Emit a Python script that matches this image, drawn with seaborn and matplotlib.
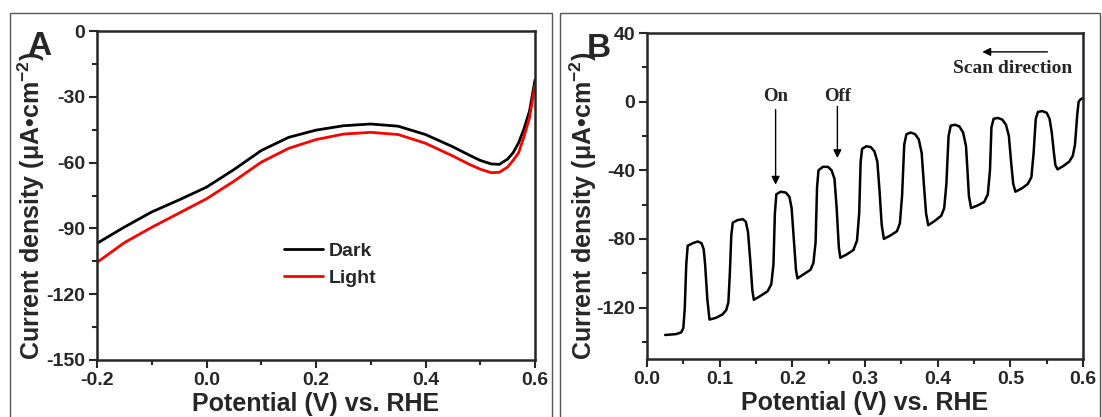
import numpy as np
import pandas as pd
import matplotlib
matplotlib.use("Agg")
import matplotlib.pyplot as plt
from matplotlib.patches import Rectangle
from matplotlib.ticker import MultipleLocator
import seaborn as sns

# ---------------- Data ----------------
# Panel A: linear sweep voltammetry, dark vs light
potential_A = [-0.20, -0.15, -0.10, -0.05, 0.00, 0.05, 0.10, 0.15, 0.20, 0.25,
               0.30, 0.35, 0.40, 0.45, 0.48, 0.50, 0.52, 0.535, 0.55, 0.56,
               0.57, 0.58, 0.59, 0.60]
dark_A = [-96.8, -89.4, -82.5, -77.0, -71.2, -63.2, -54.5, -48.5, -45.2, -43.2,
          -42.4, -43.4, -47.2, -52.8, -56.6, -59.0, -60.6, -60.8, -58.4, -55.5,
          -51.0, -44.5, -36.5, -22.3]
light_A = [-105.5, -96.5, -89.5, -83.0, -76.5, -68.5, -59.8, -53.5, -49.5, -47.0,
           -46.2, -47.2, -51.2, -57.0, -60.8, -63.0, -64.6, -64.4, -62.0, -59.0,
           -55.5, -48.0, -39.5, -24.6]

# Panel B: chopped-light LSV
potential_B = [0.025, 0.040, 0.047, 0.050, 0.052, 0.054, 0.056, 0.063, 0.070, 0.075,
               0.078, 0.080, 0.083, 0.086, 0.095, 0.104, 0.109, 0.112, 0.114, 0.116,
               0.118, 0.125, 0.132, 0.136, 0.139, 0.142, 0.145, 0.147, 0.157, 0.166,
               0.171, 0.174, 0.176, 0.178, 0.184, 0.191, 0.196, 0.199, 0.202, 0.205,
               0.207, 0.216, 0.225, 0.229, 0.232, 0.234, 0.236, 0.242, 0.249, 0.254,
               0.258, 0.261, 0.264, 0.266, 0.275, 0.284, 0.289, 0.292, 0.294, 0.296,
               0.302, 0.308, 0.313, 0.317, 0.320, 0.323, 0.326, 0.335, 0.344, 0.348,
               0.351, 0.354, 0.357, 0.363, 0.369, 0.374, 0.378, 0.381, 0.384, 0.387,
               0.396, 0.405, 0.409, 0.412, 0.415, 0.418, 0.424, 0.430, 0.435, 0.439,
               0.441, 0.443, 0.446, 0.455, 0.464, 0.469, 0.472, 0.474, 0.477, 0.483,
               0.489, 0.494, 0.498, 0.501, 0.504, 0.507, 0.516, 0.524, 0.529, 0.532,
               0.535, 0.538, 0.544, 0.550, 0.554, 0.557, 0.560, 0.562, 0.565, 0.573,
               0.581, 0.586, 0.589, 0.592, 0.594, 0.597, 0.600]
current_B = [-136.0, -135.5, -134.5, -132.0, -120.0, -95.0, -84.0, -82.5, -81.5, -82.5,
             -86.0, -95.0, -115.0, -127.0, -126.0, -124.0, -121.5, -117.0, -100.0, -78.0,
             -70.5, -69.0, -68.5, -70.0, -76.0, -92.0, -110.0, -115.5, -113.0, -110.5,
             -106.5, -95.0, -65.0, -54.0, -52.5, -53.0, -55.5, -62.0, -80.0, -98.0,
             -103.0, -100.5, -98.0, -94.0, -82.0, -50.0, -40.0, -38.0, -38.0, -40.0,
             -45.0, -62.0, -85.0, -91.0, -89.0, -86.5, -81.0, -65.0, -35.0, -27.5,
             -26.0, -26.5, -29.0, -35.0, -52.0, -72.0, -80.0, -78.0, -75.5, -71.0,
             -55.0, -25.0, -19.0, -18.0, -19.0, -22.0, -30.0, -48.0, -65.0, -72.0,
             -69.5, -66.5, -62.0, -48.0, -20.0, -14.0, -13.5, -14.5, -18.0, -26.0,
             -40.0, -55.0, -62.0, -60.5, -58.5, -54.0, -40.0, -15.0, -10.0, -9.5,
             -10.5, -13.5, -20.0, -35.0, -48.0, -52.5, -50.5, -48.0, -44.0, -30.0,
             -10.0, -6.0, -5.5, -6.5, -10.0, -18.0, -30.0, -37.0, -39.5, -37.5,
             -35.0, -31.5, -25.0, -8.0, 0.0, 1.5, 2.0]

series_names = ["Dark", "Light"]
series_colors = ["#000000", "#ff0000"]

# ---------------- Style ----------------
sns.set_style("ticks")
plt.rcParams["font.family"] = ["Liberation Sans", "DejaVu Sans"]
plt.rcParams["font.weight"] = "bold"
plt.rcParams["axes.labelweight"] = "bold"
plt.rcParams["mathtext.fontset"] = "custom"
plt.rcParams["mathtext.rm"] = "Liberation Sans:bold"
plt.rcParams["mathtext.it"] = "Liberation Sans:bold"
plt.rcParams["mathtext.bf"] = "Liberation Sans:bold"

fig = plt.figure(figsize=(11.02, 4.17), dpi=100)
fig.patch.set_facecolor("white")

# outer panel frames
for (x0, x1) in [(10, 552), (560, 1100)]:
    fig.patches.append(Rectangle((x0 / 1102, -0.05), (x1 - x0) / 1102, 1.05 - 13 / 417,
                                 transform=fig.transFigure, fill=False,
                                 edgecolor="#555555", linewidth=1.0))

axA = fig.add_axes([97 / 1102, 1 - 360 / 417, 438 / 1102, 329 / 417])
axB = fig.add_axes([647 / 1102, 1 - 359 / 417, 436 / 1102, 326 / 417])

dfA = pd.DataFrame({
    "Potential": potential_A * 2,
    "Current": dark_A + light_A,
    "Series": [series_names[0]] * len(dark_A) + [series_names[1]] * len(light_A),
})
sns.lineplot(data=dfA, x="Potential", y="Current", hue="Series",
             palette=dict(zip(series_names, series_colors)), ax=axA,
             linewidth=2.0, sort=False, estimator=None)

dfB = pd.DataFrame({"Potential": potential_B, "Current": current_B})
sns.lineplot(data=dfB, x="Potential", y="Current", ax=axB, color="black",
             linewidth=1.8, sort=False, estimator=None)

tick_fs = 14
label_fs = 18
ylab = "Current density (\u03bcA\u2022cm$^{-2}$)"

for ax in (axA, axB):
    for s in ax.spines.values():
        s.set_linewidth(1.8)
        s.set_visible(True)
    ax.tick_params(which="major", direction="out", length=6, width=1.5,
                   labelsize=tick_fs, top=False, right=False, pad=2.5)
    ax.tick_params(which="minor", direction="out", length=3.5, width=1.5,
                   top=False, right=False)
    ax.set_xlabel("Potential (V) vs. RHE", fontsize=label_fs, fontweight="bold", labelpad=2)
    ax.set_ylabel(ylab, fontsize=label_fs, fontweight="bold")

axA.set_xlim(-0.2, 0.6)
axA.set_ylim(-150, 0)
axA.xaxis.set_minor_locator(MultipleLocator(0.1))
axA.yaxis.set_minor_locator(MultipleLocator(15))
axA.set_xticks([-0.2, 0.0, 0.2, 0.4, 0.6])
axA.set_xticklabels(["-0.2", "0.0", "0.2", "0.4", "0.6"], fontweight="bold")
axA.set_yticks([0, -30, -60, -90, -120, -150])
axA.set_yticklabels(["0", "-30", "-60", "-90", "-120", "-150"], fontweight="bold")
axA.yaxis.set_label_coords(-0.114, 0.47)

axB.set_xlim(0.0, 0.6)
axB.set_ylim(-150, 40)
axB.xaxis.set_minor_locator(MultipleLocator(0.05))
axB.yaxis.set_minor_locator(MultipleLocator(20))
axB.set_xticks([0.0, 0.1, 0.2, 0.3, 0.4, 0.5, 0.6])
axB.set_xticklabels(["0.0", "0.1", "0.2", "0.3", "0.4", "0.5", "0.6"], fontweight="bold")
axB.set_yticks([40, 0, -40, -80, -120])
axB.set_yticklabels(["40", "0", "-40", "-80", "-120"], fontweight="bold")
axB.yaxis.set_label_coords(-0.110, 0.47)

# legend for panel A
leg = axA.legend(loc="center left", bbox_to_anchor=(0.428, 0.29), frameon=False,
                 fontsize=14, handlelength=2.0, handletextpad=0.3,
                 labelspacing=0.45, borderpad=0, borderaxespad=0)
for t in leg.get_texts():
    t.set_fontweight("bold")
for h in leg.get_lines():
    h.set_linewidth(2.0)

# annotations panel B
serif = ["Liberation Serif", "DejaVu Serif"]
arrow_kw = dict(arrowstyle="-|>", color="black", lw=1.0, mutation_scale=12,
                shrinkA=0, shrinkB=0)
axB.annotate("", xy=(0.177, -48.4), xytext=(0.177, -4.7), arrowprops=arrow_kw)
axB.text(0.177, 3.0, "On", ha="center", va="center", fontsize=13.5,
         fontweight="bold", family=serif)
axB.annotate("", xy=(0.262, -32.9), xytext=(0.262, -2.8), arrowprops=arrow_kw)
axB.text(0.262, 3.0, "Off", ha="center", va="center", fontsize=13.5,
         fontweight="bold", family=serif)
axB.annotate("", xy=(0.4615, 29.0), xytext=(0.551, 29.0), arrowprops=arrow_kw)
axB.text(0.503, 19.2, "Scan direction", ha="center", va="center", fontsize=14,
         fontweight="bold", family=serif)

# panel letters
fig.text(27 / 1102, 1 - 31 / 417, "A", ha="left", va="top", fontsize=24,
         fontweight="bold")
fig.text(587 / 1102, 1 - 33 / 417, "B", ha="left", va="top", fontsize=24,
         fontweight="bold")

fig.savefig("out.png", dpi=100, facecolor="white")
